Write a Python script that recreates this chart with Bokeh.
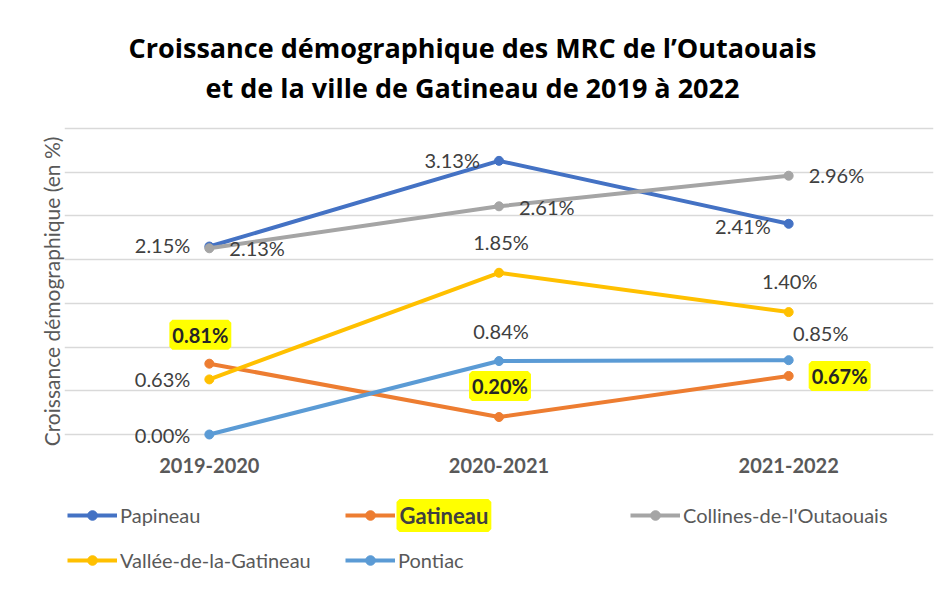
from bokeh.plotting import figure
from bokeh.models import (ColumnDataSource, LabelSet, Label, Legend, LegendItem,
                          SingleIntervalTicker, FixedTicker, FactorRange, Range1d)
from bokeh.embed import file_html
from bokeh.resources import INLINE
from bokeh.core.properties import value

# ---------------- data ----------------
title_line1 = "Croissance démographique des MRC de l’Outaouais"
title_line2 = "et de la ville de Gatineau de 2019 à 2022"
y_title = "Croissance démographique (en %)"
periods = ["2019-2020", "2020-2021", "2021-2022"]

names = ["Papineau", "Gatineau", "Collines-de-l'Outaouais", "Vallée-de-la-Gatineau", "Pontiac"]
papineau = [2.15, 3.13, 2.41]
gatineau = [0.81, 0.20, 0.67]
collines = [2.13, 2.61, 2.96]
vallee = [0.63, 1.85, 1.40]
pontiac = [0.00, 0.84, 0.85]
series_values = [papineau, gatineau, collines, vallee, pontiac]

y_min, y_max, y_step = 0.0, 3.5, 0.5

# ---------------- layout / styles ----------------
W, H = 938, 582
PLOT_LEFT, PLOT_RIGHT = 64, 933          # px of plotting area
GRID_TOP, GRID_BOTTOM = 128, 434         # px of y_max / y_min gridlines
ppu = (GRID_BOTTOM - GRID_TOP) / (y_max - y_min)
y_lo = y_min - (H - GRID_BOTTOM) / ppu
y_hi = y_max + GRID_TOP / ppu

colors = ["#4472C4", "#ED7D31", "#A5A5A5", "#FFC000", "#5B9BD5"]
highlight = [False, True, False, False, False]
# label placement per point: (side, dx px, dy px up)
placements = [
    [("left", -19, 2), ("left", -19, 1), ("left", -18, -2)],
    [("above", -9, 29), ("above", 1, 31), ("right", 23, 0)],
    [("right", 20, 0), ("right", 20, -1), ("right", 20, 1)],
    [("left", -19, 0), ("above", 2, 31), ("above", 1, 31)],
    [("left", -19, 0), ("above", 2, 30), ("above", 32, 27)],
]
align_of = {"left": "right", "right": "left", "above": "center"}
# legend positions relative to plotting area bottom-left (px)
legend_pos = [(3, 55), (281, 55), (566, 55), (3, 10), (281, 10)]

LATO = value("Lato")
GRAY_TXT = "#595959"
LABEL_TXT = "#404040"

p = figure(width=W, height=H,
           x_range=FactorRange(*periods), y_range=Range1d(y_lo, y_hi),
           x_axis_location=None,
           output_backend="svg", toolbar_location=None,
           min_border_left=PLOT_LEFT, min_border_right=W - PLOT_RIGHT,
           min_border_top=0, min_border_bottom=0)
p.outline_line_color = None
p.background_fill_color = "white"
p.border_fill_color = "white"
p.xgrid.grid_line_color = None

p.yaxis.ticker = FixedTicker(ticks=[])
p.yaxis.bounds = (y_min, y_max)
p.yaxis.major_tick_line_color = None
p.yaxis.minor_tick_line_color = None
p.yaxis.axis_line_color = None
p.yaxis.axis_label = y_title
p.yaxis.axis_label_text_font = "Lato"
p.yaxis.axis_label_text_font_size = "21px"
p.yaxis.axis_label_text_font_style = "normal"
p.yaxis.axis_label_text_color = GRAY_TXT
p.yaxis.axis_label_standoff = 1
p.ygrid.ticker = SingleIntervalTicker(interval=y_step)
p.ygrid.grid_line_color = "#D9D9D9"
p.ygrid.grid_line_width = 1.3
p.ygrid.bounds = (y_min, y_max)

# category labels under the plot
cat_src = ColumnDataSource(dict(x=periods, y=[y_min] * len(periods), text=periods))
p.add_layout(LabelSet(x="x", y="y", text="text", source=cat_src, y_offset=-31,
                      text_align="center", text_baseline="middle",
                      text_font=LATO, text_font_style="bold", text_font_size="20px",
                      text_color=GRAY_TXT))

renderers = []
for vals, col in zip(series_values, colors):
    lr = p.line(periods, vals, line_color=col, line_width=4)
    sr = p.scatter(periods, vals, size=9, fill_color=col, line_color=col)
    renderers.append((lr, sr))

# data labels
for vals, col, hl, plc in zip(series_values, colors, highlight, placements):
    src = ColumnDataSource(dict(
        x=periods, y=vals,
        text=[f"{v:.2f}%" for v in vals],
        dx=[d[1] for d in plc], dy=[d[2] for d in plc],
        align=[align_of[d[0]] for d in plc],
    ))
    kw = dict(x="x", y="y", text="text", x_offset="dx", y_offset="dy",
              text_align="align", text_baseline="middle", source=src,
              text_font=LATO, text_font_size="20px", text_color=LABEL_TXT)
    if hl:
        kw.update(text_font_style="bold", background_fill_color="#FFFF00",
                  border_line_color="#FFFF00", border_line_width=6,
                  text_color="#262626")
    p.add_layout(LabelSet(**kw))

# legends
for name, (lr, sr), pos, hl in zip(names, renderers, legend_pos, highlight):
    leg = Legend(items=[LegendItem(label=(" " if hl else name), renderers=[lr, sr])],
                 location=pos, orientation="horizontal", glyph_width=50, glyph_height=24,
                 label_standoff=3, padding=0, margin=0, spacing=0,
                 border_line_color=None, background_fill_alpha=0,
                 label_text_font="Lato", label_text_font_size="20px",
                 label_text_color=GRAY_TXT, label_height=24)
    p.add_layout(leg, "center")
    if hl:
        p.add_layout(Label(x=pos[0] + 54, y=pos[1] + 12, x_units="screen", y_units="screen",
                           text=name, text_align="left", text_baseline="middle",
                           text_font="Lato", text_font_style="bold", text_font_size="22px",
                           text_color="#404040", background_fill_color="#FFFF00",
                           border_line_color="#FFFF00", border_line_width=6))

# title
for txt, yy in [(title_line1, H - 47), (title_line2, H - 87)]:
    p.add_layout(Label(x=408, y=yy, x_units="screen", y_units="screen", text=txt,
                       text_align="center", text_baseline="middle",
                       text_font="Open Sans", text_font_style="bold",
                       text_font_size="27px", text_color="#000000"))

open("out.html", "w").write(file_html(p, INLINE))
